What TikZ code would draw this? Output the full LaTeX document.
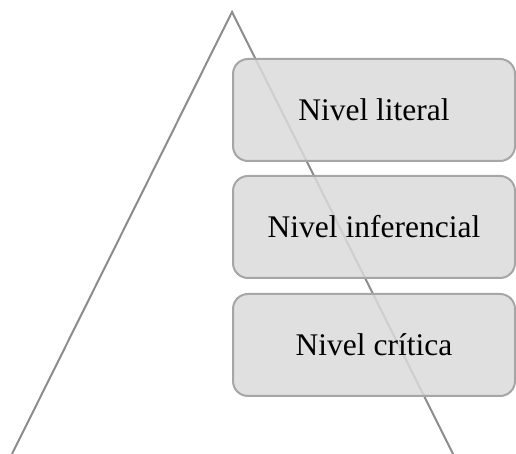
\documentclass[tikz,border=0pt]{standalone}
\usepackage{fontspec}
\setmainfont{Liberation Serif}
\begin{document}
\begin{tikzpicture}[x=1pt,y=1pt,
  lvl/.style={draw=boxborder,line width=2pt,fill=boxfill,fill opacity=0.85,text opacity=1,rounded corners=15pt,minimum width=282pt,minimum height=102pt,inner sep=0pt,font=\fontsize{31.5}{36}\selectfont,anchor=north west},
  tri/.style={draw=triline,line width=2pt}]
\definecolor{boxborder}{HTML}{A6A6A6}
\definecolor{boxfill}{HTML}{DADADA}
\definecolor{triline}{HTML}{8C8C8C}
\useasboundingbox (0,0) rectangle (516,454);
\coordinate (apex) at (232,442);
\coordinate (bl) at (12,0);
\coordinate (br) at (453,0);
\draw[tri] (bl) -- (apex) -- (br);
\node[lvl] (n1) at (232,396) {Nivel literal};
\node[lvl] (n2) at (232,279) {Nivel inferencial};
\node[lvl] (n3) at (232,161) {Nivel crítica};
\end{tikzpicture}
\end{document}
